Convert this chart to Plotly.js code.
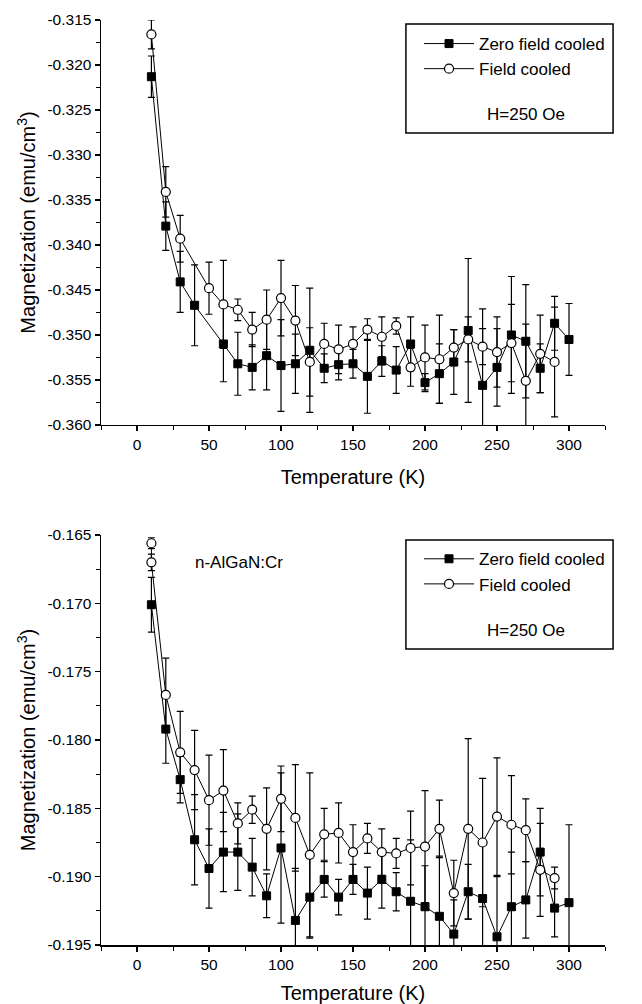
<!DOCTYPE html>
<html>
<head>
<meta charset="utf-8">
<script src="https://cdn.plot.ly/plotly-3.0.1.min.js"></script>
<style>html,body{margin:0;padding:0;background:#fff;}#chart{width:642px;height:1004px;}</style>
</head>
<body>
<div id="chart"></div>
<script>
// ---------- Data: top panel ----------
var topZfcT = [10,20,30,40,60,70,80,90,100,110,120,130,140,150,160,170,180,190,200,210,220,230,240,250,260,270,280,290,300];
var topZfcM = [-0.3213,-0.3379,-0.3441,-0.3467,-0.3510,-0.3532,-0.3536,-0.3523,-0.3534,-0.3532,-0.3517,-0.3537,-0.3533,-0.3532,-0.3546,-0.3529,-0.3539,-0.3510,-0.3553,-0.3543,-0.3530,-0.3495,-0.3556,-0.3536,-0.3500,-0.3507,-0.3537,-0.3487,-0.3505];
var topZfcErr = [0.0023,0.0027,0.0034,0.0045,0.0042,0.0035,0.0025,0.0038,0.0051,0.0033,0.0069,0.0016,0.0017,0.0016,0.0041,0.0017,0.0026,0.0030,0.0010,0.0033,0.0036,0.0080,0.0085,0.0043,0.0065,0.0063,0.0027,0.0030,0.0040];

var topFcT = [10,20,30,50,60,70,80,90,100,110,120,130,140,150,160,170,180,190,200,210,220,230,240,250,260,270,280,290];
var topFcM = [-0.3166,-0.3341,-0.3393,-0.3448,-0.3466,-0.3472,-0.3494,-0.3483,-0.3459,-0.3484,-0.3530,-0.3510,-0.3516,-0.3510,-0.3494,-0.3502,-0.3490,-0.3536,-0.3525,-0.3527,-0.3514,-0.3505,-0.3513,-0.3519,-0.3509,-0.3551,-0.3521,-0.3530];
var topFcErr = [0.0016,0.0028,0.0026,0.0029,0.0049,0.0012,0.0019,0.0033,0.0042,0.0039,0.0038,0.0023,0.0027,0.0019,0.0012,0.0022,0.0009,0.0021,0.0036,0.0049,0.0020,0.0025,0.0020,0.0039,0.0043,0.0063,0.0043,0.0061];

// ---------- Data: bottom panel (n-AlGaN:Cr) ----------
var botZfcT = [10,20,30,40,50,60,70,80,90,100,110,120,130,140,150,160,170,180,190,200,210,220,230,240,250,260,270,280,290,300];
var botZfcM = [-0.1701,-0.1792,-0.1829,-0.1873,-0.1894,-0.1882,-0.1882,-0.1893,-0.1914,-0.1879,-0.1932,-0.1915,-0.1902,-0.1915,-0.1902,-0.1912,-0.1902,-0.1911,-0.1918,-0.1922,-0.1929,-0.1942,-0.1911,-0.1916,-0.1944,-0.1922,-0.1917,-0.1882,-0.1923,-0.1919];
var botZfcErr = [0.0020,0.0025,0.0017,0.0033,0.0029,0.0029,0.0028,0.0021,0.0016,0.0055,0.0038,0.0030,0.0013,0.0013,0.0011,0.0019,0.0021,0.0014,0.0045,0.0030,0.0044,0.0025,0.0020,0.0040,0.0044,0.0040,0.0028,0.0032,0.0021,0.0057];

var botFcT = [10,10,20,30,40,50,60,70,80,90,100,110,120,130,140,150,160,170,180,190,200,210,220,230,240,250,260,270,280,290];
var botFcM = [-0.1656,-0.1670,-0.1767,-0.1809,-0.1822,-0.1844,-0.1837,-0.1861,-0.1851,-0.1865,-0.1843,-0.1857,-0.1884,-0.1869,-0.1868,-0.1882,-0.1872,-0.1882,-0.1883,-0.1879,-0.1878,-0.1865,-0.1912,-0.1865,-0.1875,-0.1856,-0.1862,-0.1866,-0.1895,-0.1901];
var botFcErr = [0.0004,0.0006,0.0027,0.0030,0.0029,0.0033,0.0030,0.0015,0.0010,0.0030,0.0024,0.0039,0.0060,0.0019,0.0022,0.0020,0.0011,0.0017,0.0011,0.0027,0.0041,0.0021,0.0024,0.0066,0.0047,0.0043,0.0036,0.0023,0.0034,0.0008];

// ---------- Tick labels ----------
var xTickVals = [0,50,100,150,200,250,300];
var xTickText = ['0','50','100','150','200','250','300'];
var topYTickVals = [-0.360,-0.355,-0.350,-0.345,-0.340,-0.335,-0.330,-0.325,-0.320,-0.315];
var topYTickText = ['-0.360','-0.355','-0.350','-0.345','-0.340','-0.335','-0.330','-0.325','-0.320','-0.315'];
var botYTickVals = [-0.195,-0.190,-0.185,-0.180,-0.175,-0.170,-0.165];
var botYTickText = ['-0.195','-0.190','-0.185','-0.180','-0.175','-0.170','-0.165'];

var seriesNames = ['Zero field cooled','Field cooled'];
var fieldLabel = 'H=250 Oe';
var sampleLabel = 'n-AlGaN:Cr';

var FONT = 'Liberation Sans, Arial, Helvetica, sans-serif';

function trace(x, y, err, isZfc, xa, ya, leg) {
  return {
    x: x, y: y, type: 'scatter', mode: 'lines+markers',
    name: isZfc ? seriesNames[0] : seriesNames[1],
    xaxis: xa, yaxis: ya, legend: leg,
    line: {color: '#000', width: 1},
    marker: isZfc ? {symbol: 'square', size: 8, color: '#000', line: {color: '#000', width: 1}}
                  : {symbol: 'circle', size: 9, color: '#fff', line: {color: '#000', width: 1.2}},
    error_y: {type: 'data', array: err, visible: true, color: '#000', thickness: 1.2, width: 3.5},
    cliponaxis: true
  };
}

var data = [
  trace(topZfcT, topZfcM, topZfcErr, true, 'x', 'y', 'legend'),
  trace(topFcT, topFcM, topFcErr, false, 'x', 'y', 'legend'),
  trace(botZfcT, botZfcM, botZfcErr, true, 'x2', 'y2', 'legend2'),
  trace(botFcT, botFcM, botFcErr, false, 'x2', 'y2', 'legend2')
];

function xAxis(anchor) {
  return {
    anchor: anchor, domain: [0, 1], range: [-25, 325],
    tickmode: 'array', tickvals: xTickVals, ticktext: xTickText,
    ticks: 'outside', ticklen: 5, tickwidth: 1.2, tickcolor: '#000',
    minor: {tickmode: 'linear', tick0: -25, dtick: 50, ticks: 'outside', ticklen: 4, tickwidth: 1, tickcolor: '#000'},
    showline: true, linecolor: '#000', linewidth: 1.5,
    showgrid: false, zeroline: false,
    tickfont: {family: FONT, size: 15.5, color: '#000'},
    title: {text: 'Temperature (K)', font: {family: FONT, size: 20, color: '#000'}, standoff: 18}
  };
}
function yAxis(anchor, domain, range, vals, text) {
  return {
    anchor: anchor, domain: domain, range: range,
    tickmode: 'array', tickvals: vals, ticktext: text,
    ticks: 'outside', ticklen: 5, tickwidth: 1.2, tickcolor: '#000',
    minor: {tickmode: 'linear', tick0: range[0] + 0.0025, dtick: 0.005, ticks: 'outside', ticklen: 4, tickwidth: 1, tickcolor: '#000'},
    showline: true, linecolor: '#000', linewidth: 1.5,
    showgrid: false, zeroline: false,
    tickfont: {family: FONT, size: 15.5, color: '#000'},
    title: {text: 'Magnetization (emu/cm<sup>3</sup>)', font: {family: FONT, size: 20, color: '#000'}, standoff: 6}
  };
}

var legendCommon = {
  xref: 'paper', yref: 'paper', xanchor: 'left', yanchor: 'top',
  bgcolor: 'rgba(0,0,0,0)', borderwidth: 0,
  font: {family: FONT, size: 17, color: '#000'},
  tracegroupgap: 0, itemwidth: 50
};

var layout = {
  width: 642, height: 1004,
  margin: {l: 101, r: 37, t: 20, b: 59},
  paper_bgcolor: '#fff', plot_bgcolor: '#fff',
  font: {family: FONT, color: '#000'},
  showlegend: true,
  xaxis: xAxis('y'),
  yaxis: yAxis('x', [0.5622, 1], [-0.360, -0.315], topYTickVals, topYTickText),
  xaxis2: xAxis('y2'),
  yaxis2: yAxis('x2', [0, 0.4432], [-0.195, -0.165], botYTickVals, botYTickText),
  legend: Object.assign({}, legendCommon, {x: 0.631, y: 0.9935}),
  legend2: Object.assign({}, legendCommon, {x: 0.631, y: 0.4365}),
  shapes: [
    {type: 'rect', xref: 'paper', yref: 'paper', x0: 0.605, x1: 1.016, y0: 0.8778, y1: 0.9957, line: {color: '#000', width: 1.5}},
    {type: 'rect', xref: 'paper', yref: 'paper', x0: 0.605, x1: 1.016, y0: 0.3200, y1: 0.4378, line: {color: '#000', width: 1.5}}
  ],
  annotations: [
    {text: fieldLabel, xref: 'paper', yref: 'paper', x: 0.762, y: 0.8973, xanchor: 'left', yanchor: 'middle', showarrow: false, font: {family: FONT, size: 17, color: '#000'}},
    {text: fieldLabel, xref: 'paper', yref: 'paper', x: 0.762, y: 0.3395, xanchor: 'left', yanchor: 'middle', showarrow: false, font: {family: FONT, size: 17, color: '#000'}},
    {text: sampleLabel, xref: 'paper', yref: 'paper', x: 0.1825, y: 0.414, xanchor: 'left', yanchor: 'middle', showarrow: false, font: {family: FONT, size: 17, color: '#000'}}
  ]
};

Plotly.newPlot('chart', data, layout, {displayModeBar: false, staticPlot: true});
</script>
</body>
</html>
